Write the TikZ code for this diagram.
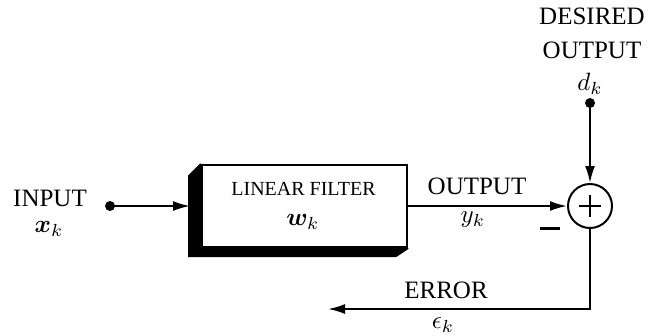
\documentclass[tikz,border=0pt]{standalone}
\usepackage{fontspec}
\setmainfont{Liberation Serif}
\usepackage{amsmath,bm}
\usetikzlibrary{arrows.meta}
\begin{document}
\begin{tikzpicture}[x=0.4pt,y=-0.4pt,
  line width=0.8pt,
  lbl/.style={inner sep=0pt,font=\fontsize{10}{12}\selectfont},
  sml/.style={inner sep=0pt,font=\fontsize{8}{10}\selectfont},
  conn/.style={-{Latex[length=6.8pt,width=4pt]}},
  dot/.style={circle,fill=black,inner sep=0pt,minimum size=4pt},
  filterbox/.style={draw,fill=white,minimum width=82pt,minimum height=32.8pt,inner sep=0pt},
  sumnode/.style={draw,circle,minimum size=17.6pt,inner sep=0pt}]
\useasboundingbox (0,0) rectangle (659,335);

% input
\node[lbl] (inlbl) at (50,198) {INPUT};
\node[lbl] (inx) at (49,229) {$\bm{x}_k$};
\node[dot] (indot) at (110,206) {};

% filter block with its dark lower-left extrusion
\node[filterbox] (filter) at (304.5,206) {};
\fill (filter.north west) -- ++(-12,12) |- ++(207,80) -- (filter.south east) -- (filter.south west) -- cycle;
\draw (filter.north west) -- ++(-12,12) |- ++(207,80) -- (filter.south east);
\node[filterbox] at (filter.center) {};
\coordinate (filterin) at (190,206);
\node[sml] (ftitle) at (303.5,189) {LINEAR FILTER};
\node[lbl] (fw) at (303,222) {$\bm{w}_k$};

% summing junction
\node[sumnode] (sum) at (590,206) {};
\draw[line width=0.5pt] (579,206) -- (601,206) (590,195) -- (590,217);
\node[inner sep=0pt] (minus) at (550,228) {\rule{8pt}{1.2pt}};

% output labels
\node[lbl] (outlbl) at (477,186) {OUTPUT};
\node[lbl] (outy) at (473,220) {$y_k$};

% desired output
\node[lbl] (des1) at (592,16) {DESIRED};
\node[lbl] (des2) at (592,50) {OUTPUT};
\node[lbl] (desd) at (590,84) {$d_k$};
\node[dot] (ddot) at (590,103) {};

% error
\node[lbl] (errlbl) at (446,290) {ERROR};
\node[lbl] (erre) at (443,325) {$\epsilon_k$};
\coordinate (errend) at (328,309);

% connectors
\draw[conn] (indot.center) -- (filterin);
\draw[conn] (filter.east) -- (sum.west);
\draw[conn] (ddot.center) -- (sum.north);
\draw[conn] (sum.south) |- (errend);
\end{tikzpicture}
\end{document}
